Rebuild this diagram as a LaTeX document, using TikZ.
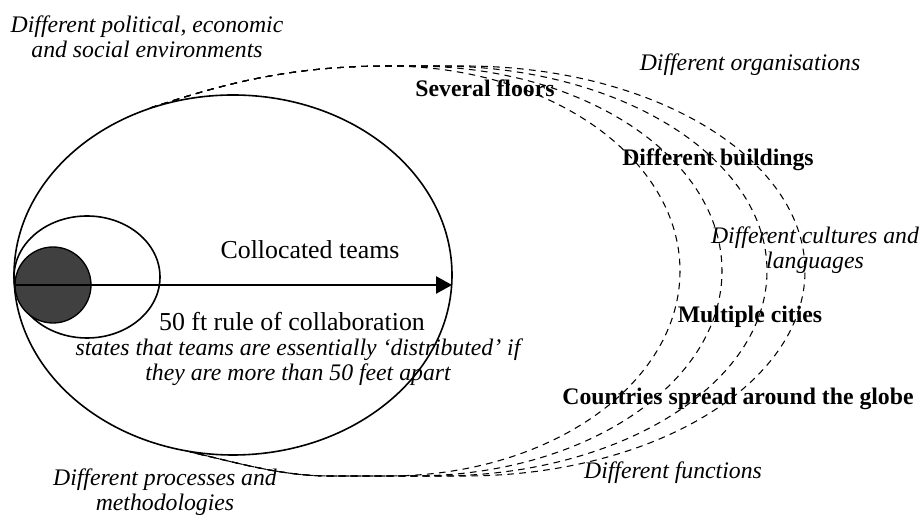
\documentclass[tikz,border=0pt]{standalone}
\usepackage{fontspec}
\setmainfont{Liberation Serif}
\usetikzlibrary{arrows.meta}
\newcommand{\labfont}{\fontsize{17.8}{18.5}\selectfont}
\newcommand{\teamfont}{\fontsize{19.4}{21}\selectfont}

\begin{document}
\begin{tikzpicture}[x=0.75pt, y=0.75pt,
        factorlabel/.style={inner sep=0pt, align=center, font=\labfont\itshape},
        sitelabel/.style={inner sep=0pt, align=center, font=\labfont\bfseries},
        rulelabel/.style={inner sep=0pt, align=center, font=\teamfont},
        spread/.style={dash pattern=on 5pt off 4pt, line width=0.8pt}]

    \useasboundingbox (0,0) rectangle (921,517);

    \draw [line width=1.2pt] (233,242) ellipse (219 and 180);
    \draw [line width=1.2pt] (87,240) ellipse (73 and 61);
    \draw [line width=1pt, fill=black!75] (53,232) circle (38);

    \coordinate (start) at (15,232);
    \coordinate (tip) at (452,232);
    \draw [-{Triangle[length=12pt,width=13pt]}, line width=1.1pt] (start) -- (tip);

    \coordinate (t1) at (150,409);
    \coordinate (t2) at (190,65);
    \foreach \cx/\rx in {388/292, 413/309, 438/329, 464/341}
        \draw [spread]
            (t1) .. controls (212,429) and (280,451) .. (388,451)
            -- (\cx,451) arc [start angle=90, end angle=-90,
                               x radius=\rx, y radius=205]
            -- (330,41) .. controls (280,41) and (235,55) .. (t2);

    \node [factorlabel] (polit) at (147,480)
        {Different political, economic\\and social environments};
    \node [factorlabel] (orgs) at (750,452) {Different organisations};
    \node [sitelabel] (floors) at (485,429) {Several floors};
    \node [sitelabel] (buildings) at (718,357) {Different buildings};
    \node [factorlabel] (cultures) at (815,267)
        {Different cultures and\\languages};
    \node [sitelabel] (cities) at (750,200) {Multiple cities};
    \node [sitelabel] (countries) at (738,118) {Countries spread around the globe};
    \node [factorlabel] (functions) at (673,44) {Different functions};
    \node [factorlabel] (processes) at (165,25)
        {Different processes and\\methodologies};

    \node [rulelabel] (collocated) at (310,267) {Collocated teams};
    \node [rulelabel] (rule) at (292,195) {50 ft rule of collaboration};
    \node [factorlabel] (ruletext) at (298,155)
        {states that teams are essentially `distributed' if\\they are more than 50 feet apart};
\end{tikzpicture}
\end{document}
